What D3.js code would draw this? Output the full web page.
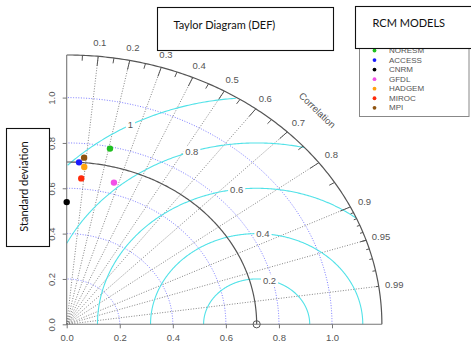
<!DOCTYPE html>
<html>
<head>
<meta charset="utf-8">
<script src="https://cdn.jsdelivr.net/npm/d3@7/dist/d3.min.js"></script>
<style>
  html, body { margin: 0; padding: 0; background: #fff; }
  svg { display: block; }
  .tick-label { font-family: "Liberation Sans", Arial, sans-serif; font-size: 9.5px; fill: #555; }
  .box-text { font-family: Lato, "Open Sans", sans-serif; font-size: 11px; fill: #111; }
</style>
</head>
<body>
<svg id="chart" width="471" height="343"></svg>
<script>
// Model statistics: standard deviation and correlation with the observations
const models = ["NORESM", "ACCESS", "CNRM", "GFDL", "HADGEM", "MIROC", "MPI"];
const modelSD = [0.792, 0.716, 0.539, 0.650, 0.697, 0.646, 0.738];
const modelCorr = [0.206, 0.065, 0.0, 0.274, 0.095, 0.085, 0.089];
const modelColors = ["#1fbf1f", "#1a1aff", "#000000", "#f24fe6", "#ffa20f", "#ff2a0a", "#8f5410"];

// Reference (observed) standard deviation
const refSD = 0.716;

// Axis and grid values
const sdTicks = [0.0, 0.2, 0.4, 0.6, 0.8, 1.0];
const sdArcs = [0.2, 0.4, 0.6, 0.8, 1.0];
const corrLabels = [0.1, 0.2, 0.3, 0.4, 0.5, 0.6, 0.7, 0.8, 0.9, 0.95, 0.99];
const rmsLevels = [0.2, 0.4, 0.6, 0.8, 1];

const maxSD = 1.5 * d3.max(modelSD);

const svg = d3.select("#chart");
const x = d3.scaleLinear().domain([0, 1]).range([66.7, 332]);
const y = d3.scaleLinear().domain([0, 1]).range([324.3, 97.6]);

const line = d3.line().x(d => x(d[0])).y(d => y(d[1]));

function arcPoints(cx, r, a0, a1, n = 180) {
  const pts = [];
  for (let i = 0; i <= n; i++) {
    const a = a0 + (a1 - a0) * i / n;
    pts.push([cx + r * Math.cos(a), r * Math.sin(a)]);
  }
  return pts;
}

const g = svg.append("g");

// Standard deviation arcs (blue dotted)
g.selectAll(".sd-arc").data(sdArcs).join("path")
  .attr("d", r => line(arcPoints(0, r, 0, Math.PI / 2)))
  .attr("fill", "none").attr("stroke", "#7c7cff")
  .attr("stroke-width", 1).attr("stroke-dasharray", "1,1.6");

// Correlation rays (gray dotted)
g.selectAll(".ray").data(corrLabels).join("path")
  .attr("d", c => line([[0, 0], [maxSD * c, maxSD * Math.sqrt(1 - c * c)]]))
  .attr("stroke", "#666").attr("stroke-width", 0.8).attr("stroke-dasharray", "1,1.6");

// Centred RMS difference contours around the reference point
function rmsPoints(r) {
  const pts = [];
  for (let i = 0; i <= 400; i++) {
    const a = Math.PI * i / 400;
    const px = refSD + r * Math.cos(a), py = r * Math.sin(a);
    if (px < 0) break;
    if (px * px + py * py > maxSD * maxSD) continue;
    pts.push([px, py]);
  }
  return pts;
}
g.selectAll(".rms").data(rmsLevels).join("path")
  .attr("d", r => line(rmsPoints(r)))
  .attr("fill", "none").attr("stroke", "#52e2e8").attr("stroke-width", 1.1);

// Reference standard deviation arc
g.append("path")
  .attr("d", line(arcPoints(0, refSD, 0, Math.PI / 2)))
  .attr("fill", "none").attr("stroke", "#555").attr("stroke-width", 1.2);

// Outer boundary arc and axes
g.append("path")
  .attr("d", line(arcPoints(0, maxSD, 0, Math.PI / 2)))
  .attr("fill", "none").attr("stroke", "#555").attr("stroke-width", 1.2);
g.append("path").attr("d", line([[0, maxSD], [0, 0], [maxSD, 0]]))
  .attr("fill", "none").attr("stroke", "#777").attr("stroke-width", 1.1);

// Ticks on the correlation arc
function tickSet(values, frac) {
  g.selectAll(null).data(values).join("path")
    .attr("d", c => {
      const s = Math.sqrt(1 - c * c);
      return line([[maxSD * c, maxSD * s], [frac * maxSD * c, frac * maxSD * s]]);
    })
    .attr("stroke", "#555").attr("stroke-width", 1);
}
tickSet(d3.range(0.1, 0.91, 0.1), 0.965);
tickSet(d3.range(0.05, 0.96, 0.1), 0.98);
tickSet(d3.range(0.91, 0.995, 0.01), 0.99);

// Correlation labels
g.selectAll(".corr-label").data(corrLabels).join("text")
  .attr("class", "tick-label")
  .attr("x", c => x(1.05 * maxSD * c))
  .attr("y", c => y(1.05 * maxSD * Math.sqrt(1 - c * c)))
  .attr("text-anchor", "middle").attr("dominant-baseline", "central")
  .text(c => c);

g.append("text").attr("class", "tick-label")
  .attr("transform", `translate(${x(0.945)},${y(0.945)}) rotate(44)`)
  .attr("text-anchor", "middle").attr("dominant-baseline", "central")
  .text("Correlation");

// Axis ticks and labels
const xAxis = d3.axisBottom(x).tickValues(sdTicks).tickFormat(d3.format(".1f")).tickSize(4).tickPadding(6);
const xg = svg.append("g").attr("transform", `translate(0,${y(0)})`).call(xAxis);
xg.select(".domain").remove();
xg.selectAll("line").attr("stroke", "#777");
xg.selectAll("text").attr("class", "tick-label").attr("fill", null)
  .attr("font-family", null).attr("font-size", null);

const yAxis = d3.axisLeft(y).tickValues(sdTicks).tickFormat(d3.format(".1f")).tickSize(4).tickPadding(0);
const yg = svg.append("g").attr("transform", `translate(${x(0)},0)`).call(yAxis);
yg.select(".domain").remove();
yg.selectAll("line").attr("stroke", "#777");
yg.selectAll("text").attr("class", "tick-label").attr("fill", null)
  .attr("font-family", null).attr("font-size", null)
  .attr("x", null).attr("dy", null)
  .attr("text-anchor", "middle").attr("dominant-baseline", "central")
  .attr("transform", "translate(-15.5,0) rotate(-90)");

// RMS contour labels on white boxes
const labelAngles = rmsLevels.map((r, i) => (76 + 10.6 * i) * Math.PI / 180);
const rl = svg.append("g");
rmsLevels.forEach((r, i) => {
  const px = x(refSD + r * Math.cos(labelAngles[i]));
  const py = y(r * Math.sin(labelAngles[i]));
  const t = rl.append("text").attr("class", "tick-label")
    .attr("x", px).attr("y", py)
    .attr("text-anchor", "middle").attr("dominant-baseline", "central").text(r);
  const bb = t.node().getBBox();
  rl.insert("rect", "text").attr("x", bb.x - 2).attr("y", bb.y).attr("width", bb.width + 4)
    .attr("height", bb.height).attr("fill", "#fff");
});

// Reference point
svg.append("circle").attr("cx", x(refSD)).attr("cy", y(0)).attr("r", 3.6)
  .attr("fill", "none").attr("stroke", "#555").attr("stroke-width", 1);

// Model points
svg.selectAll(".pt").data(models).join("circle")
  .attr("cx", (d, i) => x(modelSD[i] * modelCorr[i]))
  .attr("cy", (d, i) => y(modelSD[i] * Math.sqrt(1 - modelCorr[i] ** 2)))
  .attr("r", 3.2)
  .attr("fill", (d, i) => modelColors[i]);

// Legend
const lg = svg.append("g");
lg.append("rect").attr("x", 359.5).attr("y", 38).attr("width", 109.5).attr("height", 78.5)
  .attr("fill", "#fff").attr("stroke", "#888").attr("stroke-width", 1);
const leg = lg.selectAll(".leg").data(models).join("g")
  .attr("transform", (d, i) => `translate(374.5,${50.5 + i * 9.55})`);
leg.append("circle").attr("r", 1.9).attr("fill", (d, i) => modelColors[i]);
leg.append("text").attr("x", 14.5).attr("dominant-baseline", "central")
  .attr("font-family", "'Liberation Sans', Arial, sans-serif").attr("font-size", "8px")
  .attr("fill", "#555").text(d => d);

// Text boxes
function textBox(x0, y0, w, h, label, tx, ty, rot) {
  svg.append("rect").attr("x", x0).attr("y", y0).attr("width", w).attr("height", h)
    .attr("fill", "#fff").attr("stroke", "#111").attr("stroke-width", 1.1);
  const t = svg.append("text").attr("class", "box-text").text(label)
    .attr("dominant-baseline", "central");
  if (rot) {
    t.attr("text-anchor", "middle").attr("transform", `translate(${tx},${ty}) rotate(-90)`);
  } else {
    t.attr("x", tx).attr("y", ty);
  }
}
textBox(157.5, 7.5, 176, 43, "Taylor Diagram (DEF)", 173.5, 24.5);
textBox(355.5, 6.5, 120, 42, "RCM MODELS", 372.5, 22.5);
textBox(6.5, 128.5, 43, 118, "Standard deviation", 23, 186.5, true);
</script>
</body>
</html>
